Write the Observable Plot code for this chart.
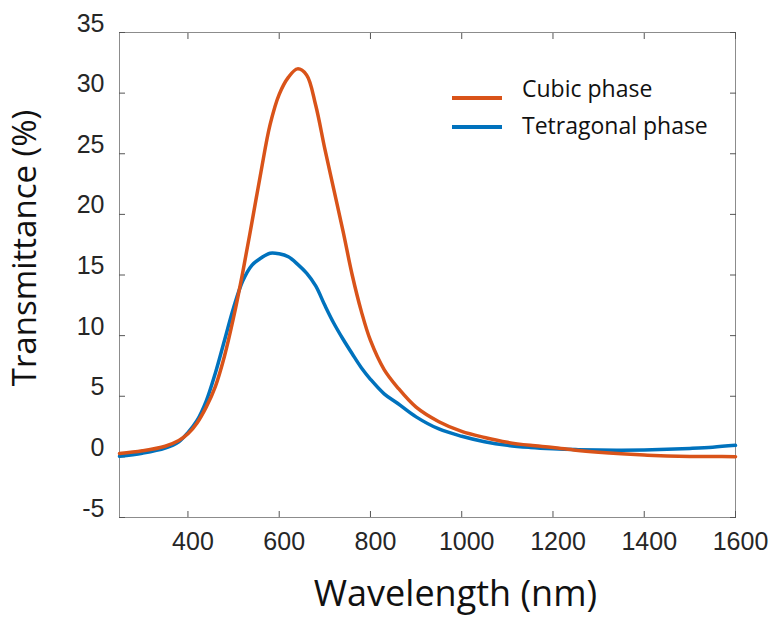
<!DOCTYPE html>
<html><head><meta charset="utf-8">
<script src="https://cdn.jsdelivr.net/npm/d3@7"></script>
<script src="https://cdn.jsdelivr.net/npm/@observablehq/plot@0.6"></script>
<style>
body{margin:0;background:#fff;}
#wrap{position:relative;width:772px;height:617px;}
.legend-line{position:absolute;width:50px;height:3.5px;}
.legend-text{position:absolute;font-family:"Open Sans";font-size:23px;line-height:23px;color:#111;white-space:nowrap;}
</style></head><body><div id="wrap"></div>
<script>
const wavelength = [250,300,350,380,400,420,440,460,480,500,520,540,560,580,600,620,640,660,680,700,720,740,760,780,800,830,860,900,950,1000,1050,1100,1150,1200,1250,1300,1350,1400,1450,1500,1550,1600];
const cubic = [0.27,0.5,0.88,1.35,1.9,2.8,4.1,5.8,8.3,11.5,15.2,19.3,23.5,27.4,29.9,31.3,32.0,31.5,29.0,25.4,22.0,18.6,15.0,12.0,9.6,7.2,5.7,4.1,2.9,2.1,1.6,1.2,0.95,0.78,0.55,0.38,0.25,0.15,0.08,0.04,0.03,0.02];
const tetragonal = [0.05,0.3,0.72,1.25,2.0,3.0,4.6,6.9,9.6,12.3,14.5,15.8,16.4,16.8,16.75,16.5,15.9,15.15,14.1,12.5,11.0,9.7,8.5,7.35,6.4,5.2,4.4,3.3,2.3,1.7,1.25,0.95,0.78,0.67,0.6,0.56,0.55,0.57,0.62,0.7,0.8,0.95];
const seriesNames = ["Cubic phase", "Tetragonal phase"];
const seriesColors = ["#D95319", "#0072BD"];
const xTicks = [400,600,800,1000,1200,1400,1600];
const yTicks = [-5,0,5,10,15,20,25,30,35];
const xTitle = "Wavelength (nm)";
const yTitle = "Transmittance (%)";

const rows = [];
wavelength.forEach((w,i)=>rows.push({series: seriesNames[1], wl: w, v: tetragonal[i]}));
wavelength.forEach((w,i)=>rows.push({series: seriesNames[0], wl: w, v: cubic[i]}));

const titleFont = "Open Sans";
const plain = d => String(d);
const chart = Plot.plot({
  width: 772, height: 617,
  marginLeft: 119, marginRight: 37, marginTop: 32, marginBottom: 100,
  style: {fontFamily: "Liberation Sans", fontSize: "25px", color: "#262626", background: "#fff"},
  x: {domain: [250, 1600]},
  y: {domain: [-5, 35]},
  color: {domain: seriesNames, range: seriesColors},
  marks: [
    Plot.frame({stroke: "#8c8c8c"}),
    Plot.axisX({anchor: "bottom", ticks: xTicks, tickSize: -6, tickFormat: () => "", label: null, stroke: "#555"}),
    Plot.axisX({anchor: "top", ticks: xTicks, tickSize: -6, tickFormat: () => "", label: null, stroke: "#555"}),
    Plot.axisY({anchor: "left", ticks: yTicks, tickSize: -6, tickFormat: () => "", label: null, stroke: "#555"}),
    Plot.axisY({anchor: "right", ticks: yTicks, tickSize: -6, tickFormat: () => "", label: null, stroke: "#555"}),
    Plot.axisX({anchor: "bottom", ticks: xTicks, tickSize: 0, tickPadding: 15, dx: 5, label: null, fontSize: 25, tickFormat: plain}),
    Plot.axisY({anchor: "left", ticks: yTicks, tickSize: 0, tickPadding: 15, dy: -9, label: null, fontSize: 25, tickFormat: plain}),
    Plot.line(rows, {x: "wl", y: "v", z: "series", stroke: "series", strokeWidth: 3.5, curve: "catmull-rom"}),
    Plot.text([xTitle], {frameAnchor: "bottom", textAnchor: "middle", lineAnchor: "middle", dx: 28, dy: 77, fontSize: 36, fontFamily: titleFont, fill: "#111"}),
    Plot.text([yTitle], {frameAnchor: "left", textAnchor: "middle", lineAnchor: "middle", rotate: -90, dx: -94, dy: -27, fontSize: 33, fontFamily: titleFont, fill: "#111"})
  ]
});
const wrap = document.getElementById("wrap");
wrap.appendChild(chart);

// legend
const lineTops = [96, 125];
const textTops = [76.5, 113.5];
seriesNames.forEach((name, i) => {
  const ln = document.createElement("div");
  ln.className = "legend-line";
  ln.style.left = "452px";
  ln.style.top = lineTops[i] + "px";
  ln.style.background = seriesColors[i];
  wrap.appendChild(ln);
  const tx = document.createElement("div");
  tx.className = "legend-text";
  tx.style.left = "522px";
  tx.style.top = textTops[i] + "px";
  tx.textContent = name;
  wrap.appendChild(tx);
});
</script>
</body></html>
